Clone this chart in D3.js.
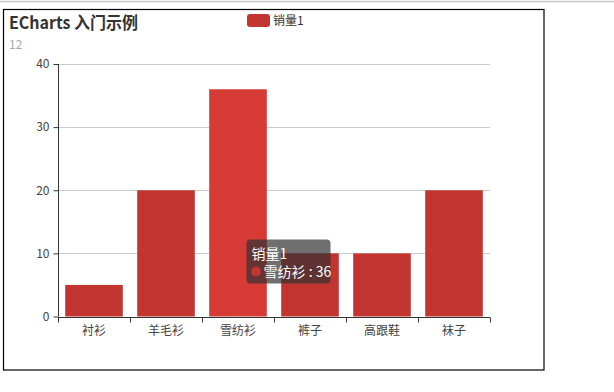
<!DOCTYPE html>
<html><head><meta charset="utf-8">
<script src="https://cdn.jsdelivr.net/npm/d3@7/dist/d3.min.js"></script>
<style>body{margin:0;background:#fff;} svg{display:block;}</style>
</head><body><svg id="c" width="614" height="392"></svg>
<script>
const categories = ["衬衫","羊毛衫","雪纺衫","裤子","高跟鞋","袜子"];
const seriesName = "销量1";
const values = [5, 20, 36, 10, 10, 20];
const yTicks = [0, 10, 20, 30, 40];
const titleText = "ECharts 入门示例";
const subText = "12";
const hoverIndex = 2;

const FONT = "'Microsoft YaHei','Noto Sans CJK SC',sans-serif";
const svg = d3.select("#c");
// page top rule and container border
svg.append("line").attr("x1",0).attr("x2",614).attr("y1",1.5).attr("y2",1.5).attr("stroke","#c8c8c8").attr("stroke-width",1.5);
svg.append("rect").attr("x",3.5).attr("y",9.5).attr("width",540.5).attr("height",360.5).attr("fill","none").attr("stroke","#000").attr("stroke-width",1.2);

const x = d3.scaleBand().domain(categories).range([58,490]).paddingInner(0.2).paddingOuter(0.1);
const xb = d3.scaleBand().domain(categories).range([58,490]);
const y = d3.scaleLinear().domain([0,40]).range([316.5,64]);

// grid
svg.append("g").selectAll("line").data(yTicks.filter(d=>d>0)).join("line")
  .attr("x1",58).attr("x2",490).attr("y1",d=>Math.round(y(d))+0.5).attr("y2",d=>Math.round(y(d))+0.5)
  .attr("stroke","#ccc");

// bars
svg.append("g").selectAll("rect").data(values).join("rect")
  .attr("x",(d,i)=>x(categories[i])).attr("width",x.bandwidth())
  .attr("y",d=>y(d)).attr("height",d=>y(0)-y(d))
  .attr("fill",(d,i)=>i===hoverIndex?"#d63b36":"#c23531");

// y axis
const yAxis = d3.axisLeft(y).tickValues(yTicks).tickSize(5).tickPadding(4);
const gy = svg.append("g").attr("transform","translate(58.5,0)").call(yAxis);
gy.select(".domain").attr("stroke","#333").attr("d","M0,"+y(40)+"V"+y(0));
gy.selectAll(".tick line").attr("stroke","#333");
gy.selectAll(".tick text").attr("fill","#444").style("font-family",FONT).style("font-size","12px");

// x axis
const gx = svg.append("g").attr("transform","translate(0,"+(Math.round(y(0))+0.5)+")");
gx.append("line").attr("x1",58).attr("x2",490).attr("stroke","#333");
const bounds = categories.map(c=>xb(c)).concat([490]);
gx.selectAll("line.t").data(bounds).join("line").attr("class","t")
  .attr("x1",d=>Math.round(d)+0.5).attr("x2",d=>Math.round(d)+0.5).attr("y1",0).attr("y2",5).attr("stroke","#333");
gx.selectAll("text").data(categories).join("text")
  .attr("x",d=>xb(d)+xb.bandwidth()/2).attr("y",17)
  .attr("text-anchor","middle").attr("fill","#444")
  .style("font-family",FONT).style("font-size","12px").text(d=>d);

// title
svg.append("text").attr("x",9).attr("y",29).attr("fill","#333")
  .attr("textLength",129).attr("lengthAdjust","spacingAndGlyphs")
  .style("font-family",FONT).style("font-size","17px").style("font-weight","bold").text(titleText);
svg.append("text").attr("x",9).attr("y",49).attr("fill","#aaa")
  .style("font-family",FONT).style("font-size","12px").text(subText);

// legend
svg.append("rect").attr("x",247).attr("y",14).attr("width",23).attr("height",13).attr("rx",3).attr("fill","#c23531");
svg.append("text").attr("x",273).attr("y",25).attr("fill","#333")
  .style("font-family",FONT).style("font-size","12px").text(seriesName);

// tooltip
const tt = svg.append("g").attr("transform","translate(246.5,239.5)");
tt.append("rect").attr("width",84).attr("height",44).attr("rx",4).attr("fill","rgba(50,50,50,0.7)");
tt.append("text").attr("x",5).attr("y",19).attr("fill","#fff")
  .style("font-family",FONT).style("font-size","14px").text(seriesName);
tt.append("circle").attr("cx",9.5).attr("cy",32).attr("r",5).attr("fill","#c23531");
tt.append("text").attr("x",17).attr("y",37.5).attr("fill","#fff")
  .style("font-family",FONT).style("font-size","14px").text(categories[hoverIndex]+" : "+values[hoverIndex]);
</script></body></html>
